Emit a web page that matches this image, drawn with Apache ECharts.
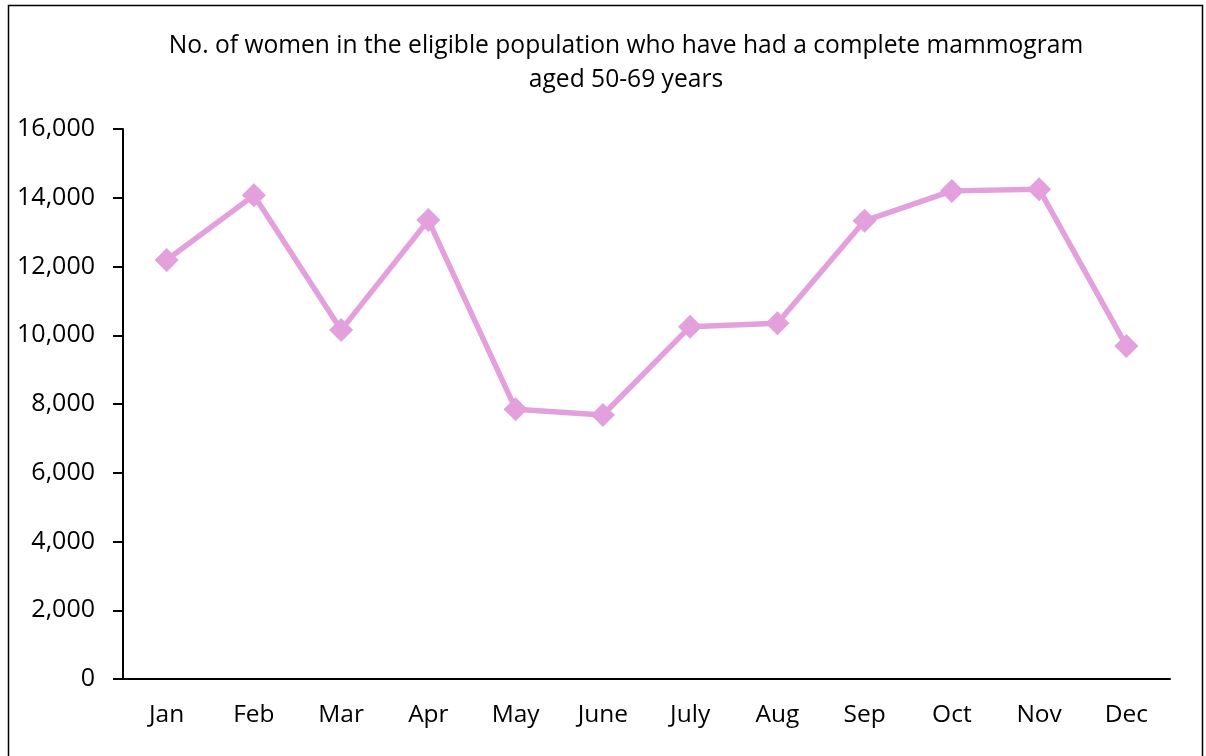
<!DOCTYPE html>
<html>
<head>
<meta charset="utf-8">
<script src="https://cdn.jsdelivr.net/npm/echarts@6/dist/echarts.min.js"></script>
<style>
html,body{margin:0;padding:0;background:#fff;}
#chart{width:1206px;height:756px;}
</style>
</head>
<body>
<div id="chart"></div>
<script>
const titleLines = ['No. of women in the eligible population who have had a complete mammogram', 'aged 50-69 years'];
const categories = ['Jan','Feb','Mar','Apr','May','June','July','Aug','Sep','Oct','Nov','Dec'];
const values = [12190, 14070, 10150, 13350, 7850, 7680, 10250, 10350, 13330, 14200, 14250, 9690];
const yTicks = {min: 0, max: 16000, interval: 2000};

const chart = echarts.init(document.getElementById('chart'), null, {renderer: 'canvas'});
chart.setOption({
  animation: false,
  backgroundColor: '#fff',
  textStyle: {fontFamily: 'Open Sans'},
  title: {
    text: titleLines.join('\n'),
    left: 621, top: 24, textAlign: 'center',
    textStyle: {fontSize: 24.6, fontWeight: 'normal', color: '#000', lineHeight: 34, fontFamily: 'Open Sans'}
  },
  graphic: [{
    type: 'rect', silent: true,
    shape: {x: 8.5, y: 5.5, width: 1194, height: 800},
    style: {fill: 'none', stroke: '#000', lineWidth: 1.5}
  }],
  grid: {left: 123, right: 36, top: 129, bottom: 77, containLabel: false},
  xAxis: {
    type: 'category', data: categories, boundaryGap: true,
    axisLine: {lineStyle: {color: '#000', width: 2}},
    axisTick: {show: false},
    axisLabel: {color: '#000', fontSize: 24.5, margin: 24, fontFamily: 'Open Sans'}
  },
  yAxis: {
    type: 'value', min: yTicks.min, max: yTicks.max, interval: yTicks.interval,
    axisLine: {show: true, lineStyle: {color: '#000', width: 2}},
    axisTick: {show: true, length: 10, lineStyle: {color: '#000', width: 2}},
    splitLine: {show: false},
    axisLabel: {color: '#000', fontSize: 25, margin: 28, fontFamily: 'Open Sans',
      formatter: v => v.toLocaleString('en-US')}
  },
  series: [{
    type: 'line', data: values,
    symbol: 'diamond', symbolSize: 24,
    lineStyle: {color: '#E4A0DC', width: 5.5},
    itemStyle: {color: '#E4A0DC'}
  }]
});
</script>
</body>
</html>
